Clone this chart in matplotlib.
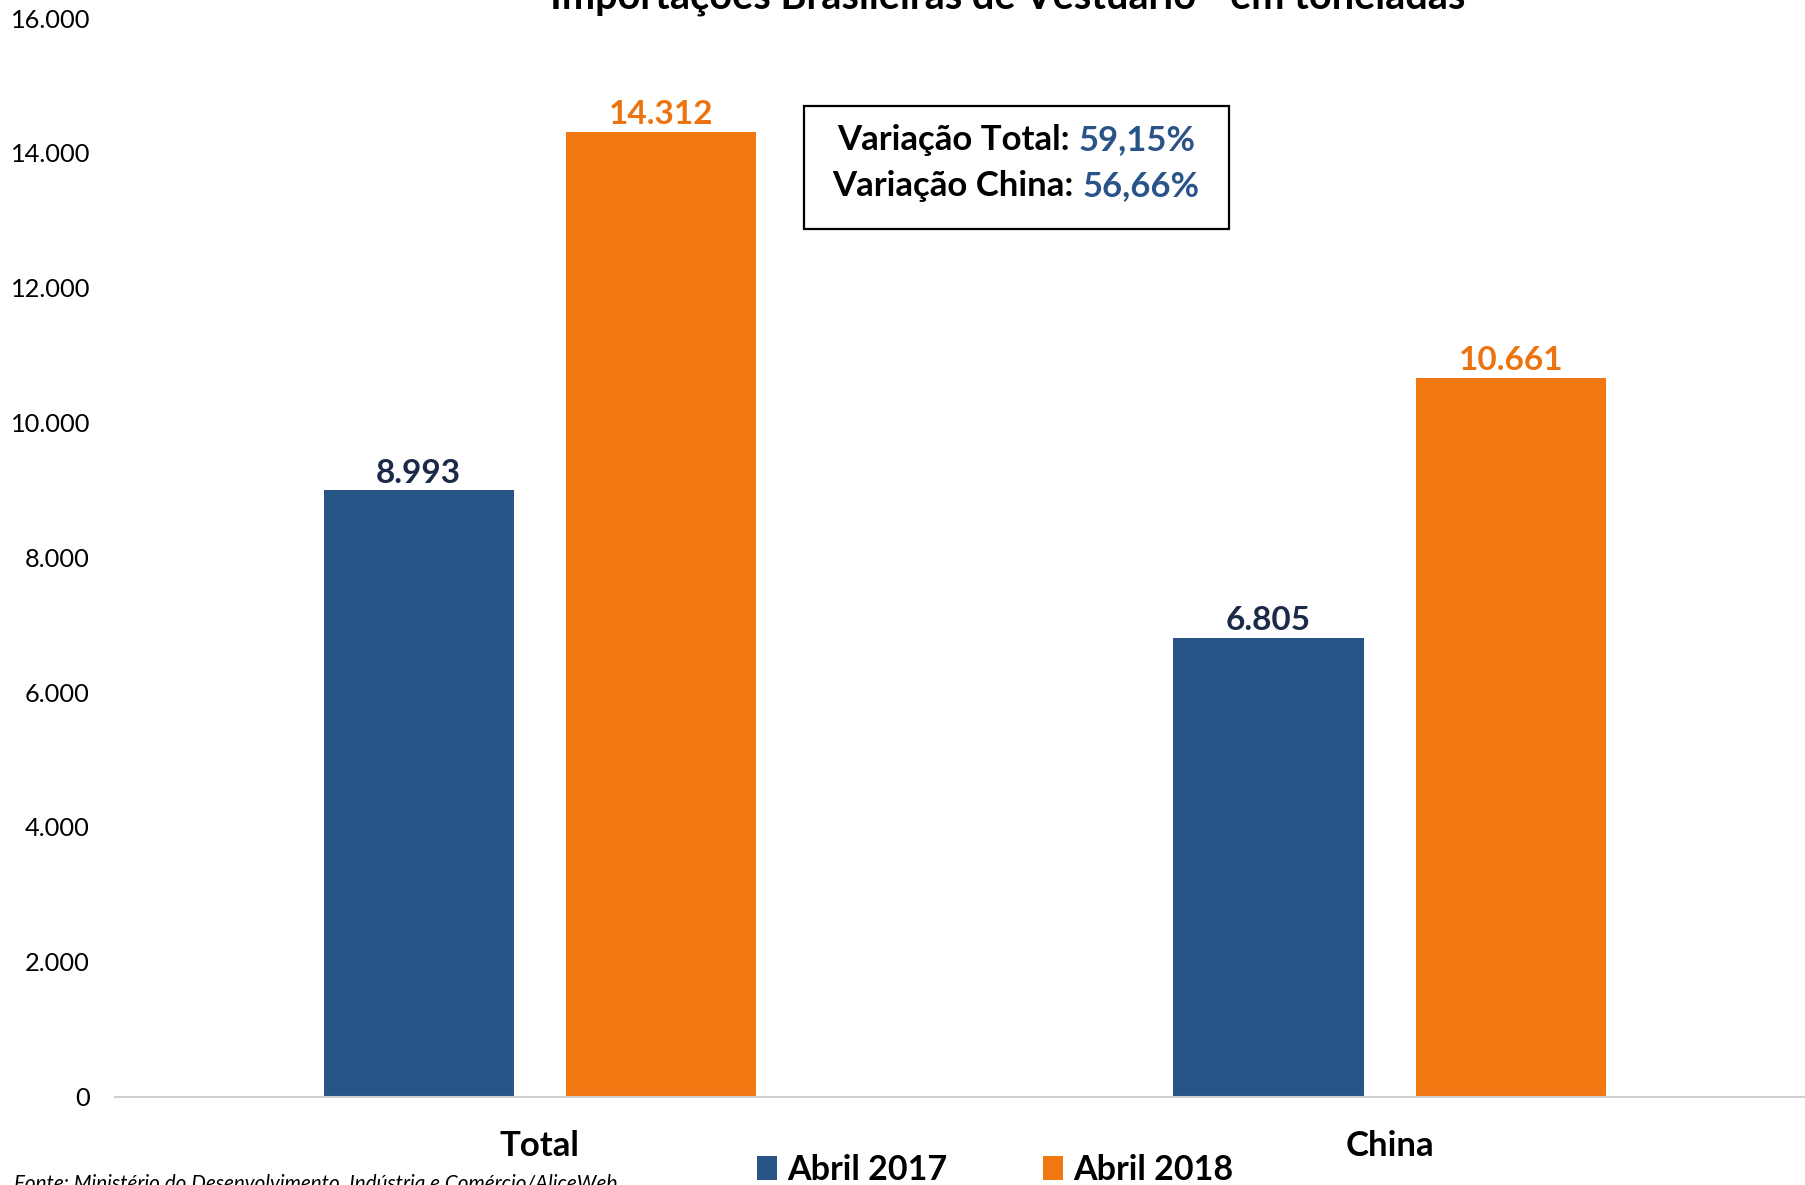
import matplotlib
matplotlib.use("Agg")
import matplotlib.pyplot as plt
from matplotlib.patches import Patch, Rectangle
from matplotlib.ticker import FuncFormatter

categories = ["Total", "China"]
series_names = ["Abril 2017", "Abril 2018"]
values_2017 = [8993, 6805]
values_2018 = [14312, 10661]
yticks = [0, 2000, 4000, 6000, 8000, 10000, 12000, 14000, 16000]
title = "Importações Brasileiras de Vestuário - em toneladas"
source = "Fonte: Ministério do Desenvolvimento, Indústria e Comércio/AliceWeb"
box_lines = [("Variação Total: ", "59,15%"), ("Variação China: ", "56,66%")]

BLUE = "#285488"
ORANGE = "#F07711"
NAVY = "#1B2A48"
ORANGE_TXT = "#EB7410"
BOXBLUE = "#2A5488"

plt.rcParams["font.family"] = ["Lato", "DejaVu Sans"]

W, H = 1806, 1185
fig = plt.figure(figsize=(W / 100, H / 100), dpi=100)
ax = fig.add_axes([115 / W, (H - 1096.5) / H, 1 - 115 / W, (1096.5 - 18) / H])

x = list(range(len(categories)))
bw = 0.224
off = 0.1425
b1 = ax.bar([i - off for i in x], values_2017, width=bw, color=BLUE, zorder=2)
b2 = ax.bar([i + off for i in x], values_2018, width=bw, color=ORANGE, zorder=2)

for rect, v in zip(b1, values_2017):
    ax.annotate(f"{v:,}".replace(",", "."), (rect.get_x() + rect.get_width() / 2, v),
                xytext=(0, 2), textcoords="offset points", ha="center", va="bottom",
                fontsize=24, fontweight="bold", color=NAVY)
for rect, v in zip(b2, values_2018):
    ax.annotate(f"{v:,}".replace(",", "."), (rect.get_x() + rect.get_width() / 2, v),
                xytext=(0, 2), textcoords="offset points", ha="center", va="bottom",
                fontsize=24, fontweight="bold", color=ORANGE_TXT)

ax.set_xlim(-0.5, 1.49)
ax.set_ylim(0, 16000)
ax.set_yticks(yticks)
ax.yaxis.set_major_formatter(FuncFormatter(lambda v, p: f"{int(v):,}".replace(",", ".")))
ax.tick_params(axis="y", length=0, pad=18, labelsize=18.3, labelcolor="black")
ax.set_xticks(x)
ax.set_xticklabels(categories, fontsize=25, fontweight="bold")
ax.tick_params(axis="x", length=0, pad=24)
for s in ["left", "right", "top"]:
    ax.spines[s].set_visible(False)
ax.spines["bottom"].set_color("#D0D0D0")
ax.spines["bottom"].set_linewidth(1.5)
ax.spines["bottom"].set_zorder(3)

# Title (cut at top, as in the reference)
fig.text(1008 / W, (H - 8) / H, title, ha="center", va="baseline",
         fontsize=28.5, fontweight="bold", color="black")

# Source (cut at bottom, as in the reference)
fig.text(14 / W, (H - 1173) / H, source, ha="left", va="top",
         fontsize=14.9, fontstyle="italic", color="black")

# Legend
handles = [Patch(facecolor=BLUE, edgecolor="none"), Patch(facecolor=ORANGE, edgecolor="none")]
fig.legend(handles, series_names, loc="center", bbox_to_anchor=(995 / W, (H - 1170) / H),
           ncol=2, frameon=False, prop={"size": 24.5, "weight": "bold"},
           handlelength=0.6, handleheight=0.7, handletextpad=0.3,
           columnspacing=2.8, borderpad=0, borderaxespad=0)

# Text box
fig.patches.append(Rectangle((804 / W, (H - 229) / H), (1229 - 804) / W, (229 - 106) / H,
                             transform=fig.transFigure, facecolor="white",
                             edgecolor="black", linewidth=1.6, zorder=5))
fig.canvas.draw()
r = fig.canvas.get_renderer()
cx = 1016
for (black, blue), yc in zip(box_lines, [140, 186]):
    t1 = fig.text(0, 0, black, fontsize=25, fontweight="bold", color="black", zorder=6)
    t2 = fig.text(0, 0, blue, fontsize=25, fontweight="bold", color=BOXBLUE, zorder=6)
    w1 = t1.get_window_extent(r).width
    w2 = t2.get_window_extent(r).width
    x0 = cx - (w1 + w2) / 2
    t1.set_position((x0 / W, (H - yc) / H))
    t1.set_va("center")
    t2.set_position(((x0 + w1) / W, (H - yc) / H))
    t2.set_va("center")

fig.savefig("out.png", dpi=100)
